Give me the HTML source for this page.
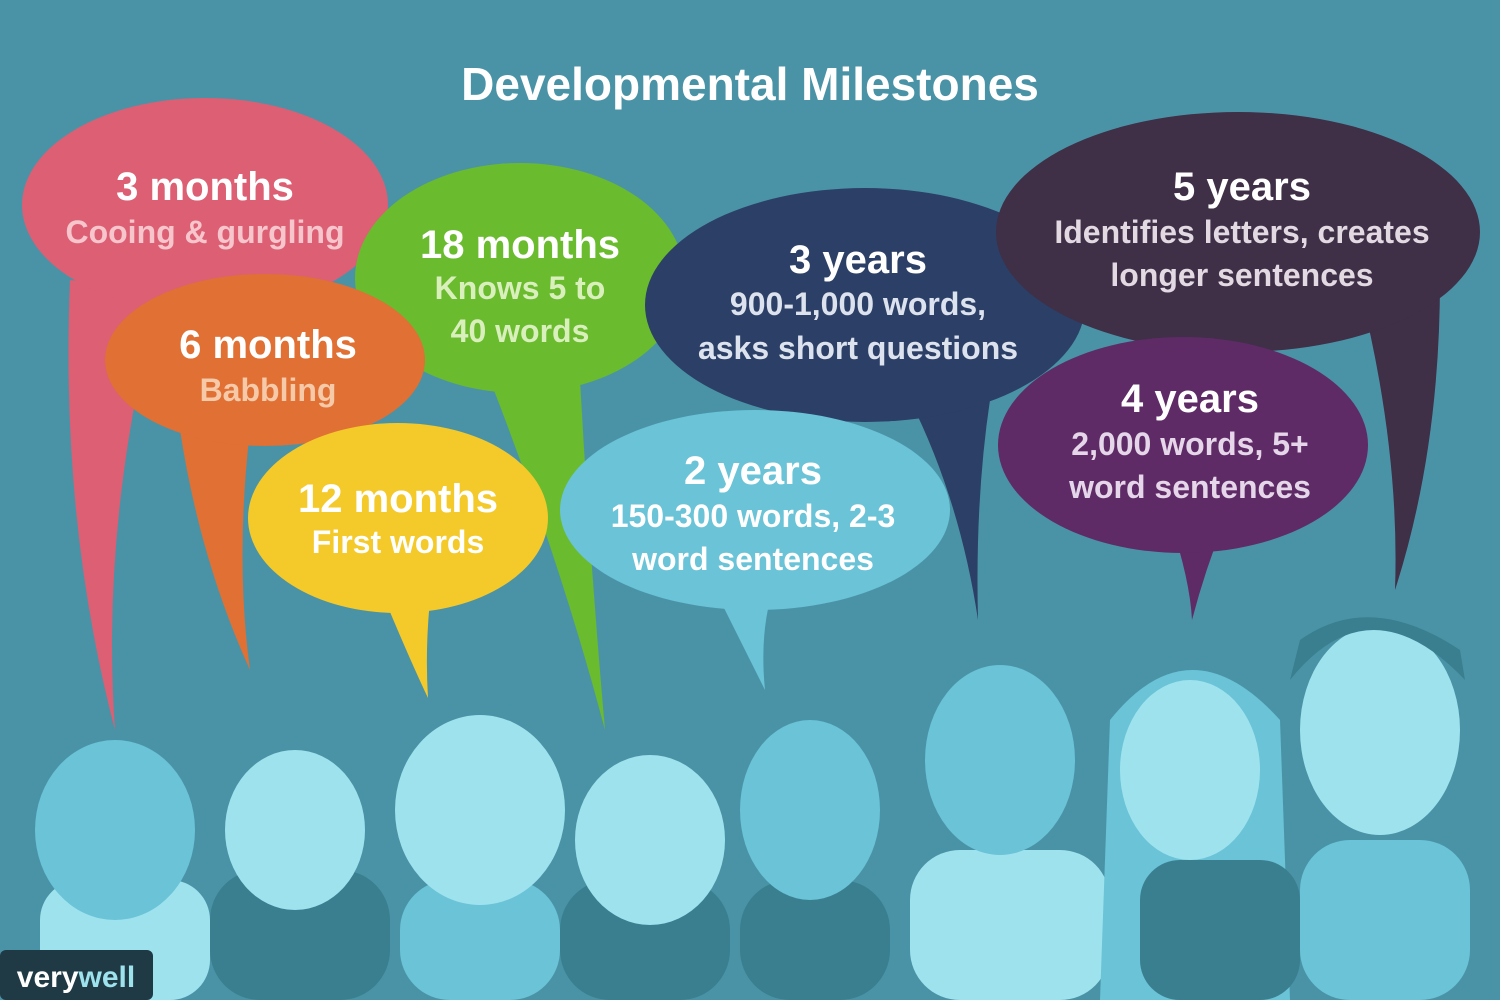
<!DOCTYPE html>
<html><head><meta charset="utf-8"><style>
html,body{margin:0;padding:0;width:1500px;height:1000px;overflow:hidden;background:#4a93a6}
svg text{font-family:"Liberation Sans",sans-serif;font-weight:bold;text-anchor:middle}
</style></head><body>
<svg width="1500" height="1000" viewBox="0 0 1500 1000">
<rect width="1500" height="1000" fill="#4a93a6"/>
<text x="750" y="100" font-size="46" fill="#fff">Developmental Milestones</text>

<g>
<path d="M70,280 Q60,520 115,730 Q100,520 160,290 Z" fill="#dc5f74"/>
<ellipse cx="205" cy="205" rx="183" ry="107" fill="#dc5f74"/>
</g>
<g>
<path d="M490,380 Q560,560 605,730 Q590,560 580,380 Z" fill="#6abb2e"/>
<ellipse cx="520" cy="278" rx="165" ry="115" fill="#6abb2e"/>
</g>
<g>
<path d="M180,430 Q200,560 250,670 Q235,560 250,430 Z" fill="#e07033"/>
<ellipse cx="265" cy="360" rx="160" ry="86" fill="#e07033"/>
</g>
<g>
<path d="M385,600 Q410,660 428,698 Q425,650 430,600 Z" fill="#f4c92a"/>
<ellipse cx="398" cy="518" rx="150" ry="95" fill="#f4c92a"/>
</g>
<g>
<path d="M910,400 Q960,500 978,620 Q975,500 990,400 Z" fill="#2c3f66"/>
<ellipse cx="865" cy="305" rx="220" ry="117" fill="#2c3f66"/>
</g>
<g>
<path d="M720,600 Q750,660 765,690 Q760,640 770,600 Z" fill="#6ac3d6"/>
<ellipse cx="755" cy="510" rx="195" ry="100" fill="#6ac3d6"/>
</g>
<g>
<path d="M1360,290 Q1400,450 1395,590 Q1440,450 1440,280 Z" fill="#3f2f47"/>
<ellipse cx="1238" cy="232" rx="242" ry="120" fill="#3f2f47"/>
</g>
<g>
<path d="M1170,520 Q1190,580 1192,620 Q1205,570 1225,520 Z" fill="#5e2b66"/>
<ellipse cx="1183" cy="445" rx="185" ry="108" fill="#5e2b66"/>
</g>

<g font-size="40">
<text x="205" y="200" fill="#fff">3 months</text>
<text x="205" y="243" font-size="32" fill="#f7c5cc">Cooing &amp; gurgling</text>
<text x="520" y="258" fill="#fff">18 months</text>
<text x="520" y="299" font-size="32" fill="#d9f0bd">Knows 5 to</text>
<text x="520" y="342" font-size="32" fill="#d9f0bd">40 words</text>
<text x="268" y="358" fill="#fff">6 months</text>
<text x="268" y="401" font-size="32" fill="#f6c9a9">Babbling</text>
<text x="398" y="512" fill="#fff">12 months</text>
<text x="398" y="553" font-size="32" fill="#fff">First words</text>
<text x="858" y="273" fill="#fff">3 years</text>
<text x="858" y="315" font-size="32" fill="#dde3ee">900-1,000 words,</text>
<text x="858" y="359" font-size="32" fill="#dde3ee">asks short questions</text>
<text x="753" y="484" fill="#fff">2 years</text>
<text x="753" y="527" font-size="32" fill="#fff">150-300 words, 2-3</text>
<text x="753" y="570" font-size="32" fill="#fff">word sentences</text>
<text x="1242" y="200" fill="#fff">5 years</text>
<text x="1242" y="243" font-size="32" fill="#e2d9e2">Identifies letters, creates</text>
<text x="1242" y="286" font-size="32" fill="#e2d9e2">longer sentences</text>
<text x="1190" y="412" fill="#fff">4 years</text>
<text x="1190" y="455" font-size="32" fill="#e6d6ea">2,000 words, 5+</text>
<text x="1190" y="498" font-size="32" fill="#e6d6ea">word sentences</text>
</g>

<g>
<rect x="40" y="880" width="170" height="120" rx="40" fill="#9ee2ee"/>
<ellipse cx="115" cy="830" rx="80" ry="90" fill="#6ac3d6"/>
<rect x="210" y="870" width="180" height="130" rx="50" fill="#3a7f8f"/>
<ellipse cx="295" cy="830" rx="70" ry="80" fill="#9ee2ee"/>
<rect x="400" y="880" width="160" height="120" rx="50" fill="#6ac3d6"/>
<ellipse cx="480" cy="810" rx="85" ry="95" fill="#9ee2ee"/>
<rect x="560" y="880" width="170" height="120" rx="50" fill="#3a7f8f"/>
<ellipse cx="650" cy="840" rx="75" ry="85" fill="#9ee2ee"/>
<rect x="740" y="880" width="150" height="120" rx="50" fill="#3a7f8f"/>
<ellipse cx="810" cy="810" rx="70" ry="90" fill="#6ac3d6"/>
<rect x="910" y="850" width="200" height="150" rx="50" fill="#9ee2ee"/>
<ellipse cx="1000" cy="760" rx="75" ry="95" fill="#6ac3d6"/>
<path d="M1100,1000 L1110,720 Q1190,620 1280,720 L1290,1000 Z" fill="#6ac3d6"/>
<ellipse cx="1190" cy="770" rx="70" ry="90" fill="#9ee2ee"/>
<rect x="1140" y="860" width="160" height="140" rx="40" fill="#3a7f8f"/>
<rect x="1300" y="840" width="170" height="160" rx="50" fill="#6ac3d6"/>
<ellipse cx="1380" cy="730" rx="80" ry="105" fill="#9ee2ee"/>
<path d="M1290,680 Q1370,580 1465,680 L1460,650 Q1370,590 1300,640 Z" fill="#3a7f8f"/>
</g>

<g>
<rect x="0" y="950" width="153" height="50" rx="6" fill="#1f3a44"/>
<text x="76" y="987" font-size="30" fill="#fff">very<tspan fill="#9ee2ee">well</tspan></text>
</g>
</svg>
</body></html>
